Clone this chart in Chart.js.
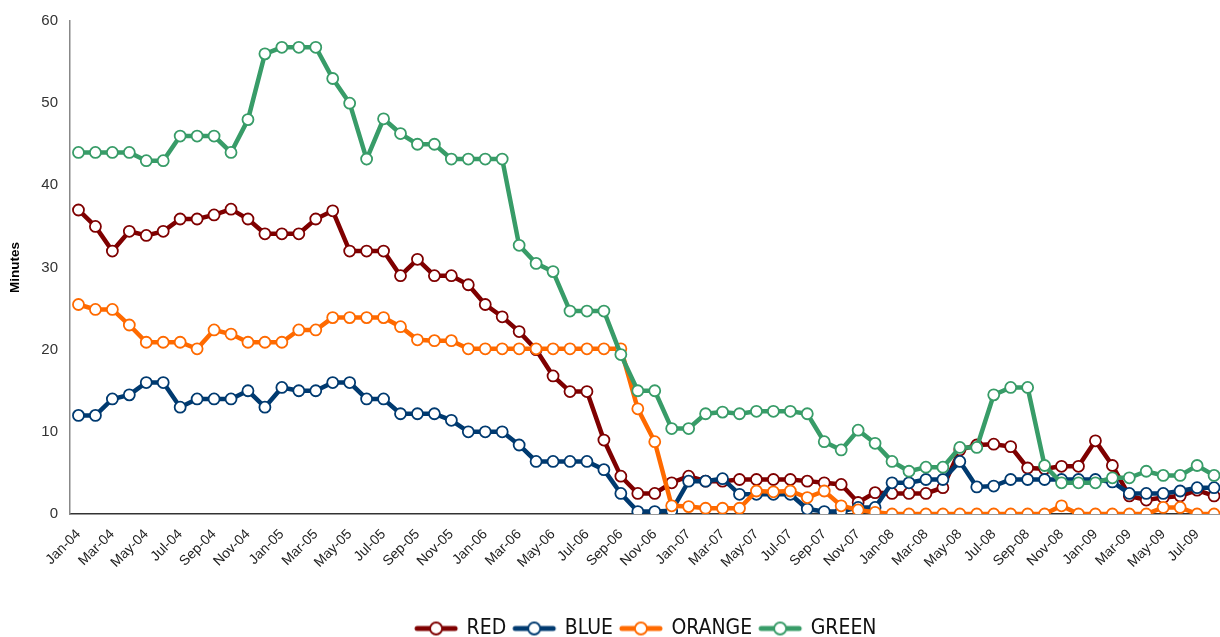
<!DOCTYPE html>
<html>
<head>
<meta charset="utf-8">
<script src="https://cdn.jsdelivr.net/npm/chart.js@4/dist/chart.umd.min.js"></script>
<style>
    html, body { margin: 0; padding: 0; background: #fff; overflow: hidden; }
    #wrap { width: 1230px; height: 637px; position: relative; }
</style>
</head>
<body>
<div id="wrap"><canvas id="chart"></canvas></div>
<script>
// months, one point per month
const months = [
    "Jan-04", "Feb-04", "Mar-04", "Apr-04", "May-04", "Jun-04", "Jul-04", "Aug-04", "Sep-04", "Oct-04", "Nov-04", "Dec-04",
    "Jan-05", "Feb-05", "Mar-05", "Apr-05", "May-05", "Jun-05", "Jul-05", "Aug-05", "Sep-05", "Oct-05", "Nov-05", "Dec-05",
    "Jan-06", "Feb-06", "Mar-06", "Apr-06", "May-06", "Jun-06", "Jul-06", "Aug-06", "Sep-06", "Oct-06", "Nov-06", "Dec-06",
    "Jan-07", "Feb-07", "Mar-07", "Apr-07", "May-07", "Jun-07", "Jul-07", "Aug-07", "Sep-07", "Oct-07", "Nov-07", "Dec-07",
    "Jan-08", "Feb-08", "Mar-08", "Apr-08", "May-08", "Jun-08", "Jul-08", "Aug-08", "Sep-08", "Oct-08", "Nov-08", "Dec-08",
    "Jan-09", "Feb-09", "Mar-09", "Apr-09", "May-09", "Jun-09", "Jul-09", "Aug-09"
];

const red = [
    37.0, 35.0, 32.0, 34.4, 33.9, 34.4, 35.9, 35.9, 36.4, 37.1, 35.9, 34.1,
    34.1, 34.1, 35.9, 36.9, 32.0, 32.0, 32.0, 29.0, 31.0, 29.0, 29.0, 27.9,
    25.5, 24.0, 22.2, 20.0, 16.8, 14.9, 14.9, 9.0, 4.6, 2.5, 2.5, 3.8,
    4.6, 4.0, 4.0, 4.2, 4.2, 4.2, 4.2, 4.0, 3.8, 3.6, 1.4, 2.6,
    2.5, 2.5, 2.5, 3.2, 7.8, 8.4, 8.5, 8.2, 5.6, 5.5, 5.8, 5.8,
    8.9, 5.9, 2.2, 1.7, 2.0, 2.2, 2.9, 2.2
];
const blue = [
    12.0, 12.0, 14.0, 14.5, 16.0, 16.0, 13.0, 14.0, 14.0, 14.0, 15.0, 13.0,
    15.4, 15.0, 15.0, 16.0, 16.0, 14.0, 14.0, 12.2, 12.2, 12.2, 11.4, 10.0,
    10.0, 10.0, 8.4, 6.4, 6.4, 6.4, 6.4, 5.4, 2.5, 0.3, 0.3, 0.4,
    4.0, 4.0, 4.3, 2.4, 2.4, 2.4, 2.4, 0.6, 0.3, 0.3, 0.8, 0.8,
    3.8, 3.8, 4.2, 4.2, 6.4, 3.3, 3.4, 4.2, 4.2, 4.2, 4.2, 4.2,
    4.2, 3.9, 2.5, 2.5, 2.5, 2.8, 3.2, 3.2
];
const orange = [
    25.5, 24.9, 24.9, 23.0, 20.9, 20.9, 20.9, 20.1, 22.4, 21.9, 20.9, 20.9,
    20.9, 22.4, 22.4, 23.9, 23.9, 23.9, 23.9, 22.8, 21.2, 21.1, 21.1, 20.1,
    20.1, 20.1, 20.1, 20.1, 20.1, 20.1, 20.1, 20.1, 20.1, 12.8, 8.8, 1.0,
    0.9, 0.7, 0.7, 0.7, 2.8, 2.7, 2.8, 2.0, 2.8, 1.0, 0.5, 0.2,
    0.0, 0.0, 0.0, 0.0, 0.0, 0.0, 0.0, 0.0, 0.0, 0.0, 1.0, 0.0,
    0.0, 0.0, 0.0, 0.0, 0.8, 0.8, 0.0, 0.0
];
const green = [
    44.0, 44.0, 44.0, 44.0, 43.0, 43.0, 46.0, 46.0, 46.0, 44.0, 48.0, 56.0,
    56.8, 56.8, 56.8, 53.0, 50.0, 43.2, 48.1, 46.3, 45.0, 45.0, 43.2, 43.2,
    43.2, 43.2, 32.7, 30.5, 29.5, 24.7, 24.7, 24.7, 19.4, 15.0, 15.0, 10.4,
    10.4, 12.2, 12.4, 12.2, 12.5, 12.5, 12.5, 12.2, 8.8, 7.8, 10.2, 8.6,
    6.4, 5.2, 5.7, 5.7, 8.1, 8.1, 14.5, 15.4, 15.4, 5.9, 3.8, 3.8,
    3.8, 4.4, 4.4, 5.2, 4.7, 4.7, 5.9, 4.7
];

const yTicks = [0, 10, 20, 30, 40, 50, 60];

const seriesNames = ["RED", "BLUE", "ORANGE", "GREEN"];
const seriesColors = ["#7f0000", "#003a70", "#ff6a00", "#389c68"];
const seriesData = [red, blue, orange, green];

// little line + hollow circle used as the legend marker
function legendIcon(color) {
    const c = document.createElement("canvas");
    c.width = 46;
    c.height = 16;
    const g = c.getContext("2d");
    g.strokeStyle = color;
    g.lineWidth = 5;
    g.lineCap = "round";
    g.beginPath();
    g.moveTo(4, 8);
    g.lineTo(42, 8);
    g.stroke();
    g.fillStyle = "#fff";
    g.lineWidth = 1.8;
    g.beginPath();
    g.arc(23, 8, 6, 0, Math.PI * 2);
    g.fill();
    g.stroke();
    return c;
}
const icons = seriesColors.map(legendIcon);

const datasets = seriesNames.map((name, i) => ({
    label: name,
    data: seriesData[i],
    borderColor: seriesColors[i],
    backgroundColor: seriesColors[i],
    borderWidth: 4.5,
    pointRadius: 5.5,
    pointBorderWidth: 1.8,
    pointBackgroundColor: "#ffffff",
    pointBorderColor: seriesColors[i],
    tension: 0,
    // excel draws later series on top
    order: seriesNames.length - i
}));

new Chart(document.getElementById("chart"), {
    type: "line",
    data: {labels: months, datasets: datasets},
    options: {
        responsive: true,
        maintainAspectRatio: false,
        animation: false,
        layout: {padding: {top: 18, right: 4, left: 0, bottom: -12}},
        plugins: {
            tooltip: {enabled: false},
            legend: {
                position: "bottom",
                fullSize: false,
                labels: {
                    usePointStyle: true,
                    pointStyleWidth: 40,
                    padding: 8,
                    color: "#111",
                    font: {family: "'Liberation Sans Narrow', 'DejaVu Sans Condensed', 'Liberation Sans', sans-serif", size: 21},
                    generateLabels(chart) {
                        const items = Chart.defaults.plugins.legend.labels.generateLabels(chart);
                        items.forEach(it => { it.pointStyle = icons[it.datasetIndex]; });
                        return items.sort((a, b) => a.datasetIndex - b.datasetIndex);
                    }
                }
            }
        },
        scales: {
            x: {
                offset: true,
                grid: {display: false},
                border: {display: true, color: "#333", width: 1.5},
                ticks: {
                    autoSkip: false,
                    maxRotation: 45,
                    minRotation: 45,
                    padding: 4,
                    color: "#222",
                    font: {family: "'Liberation Sans', Arial, sans-serif", size: 14},
                    callback: (v, idx) => idx % 2 === 0 ? months[idx] : ""
                },
                afterFit: s => { s.height = 96; }
            },
            y: {
                min: yTicks[0],
                max: yTicks[yTicks.length - 1],
                grid: {display: false, drawTicks: false},
                border: {display: true, color: "#888", width: 1.5},
                ticks: {
                    stepSize: 10,
                    padding: 12,
                    color: "#333",
                    font: {family: "'Liberation Sans', Arial, sans-serif", size: 15}
                },
                title: {
                    display: true,
                    text: "Minutes",
                    color: "#000",
                    padding: {top: 7, bottom: 0},
                    font: {family: "'Liberation Sans', Arial, sans-serif", size: 13.5, weight: "bold"}
                },
                afterFit: s => { s.width = 70; }
            }
        }
    }
});
</script>
</body>
</html>
